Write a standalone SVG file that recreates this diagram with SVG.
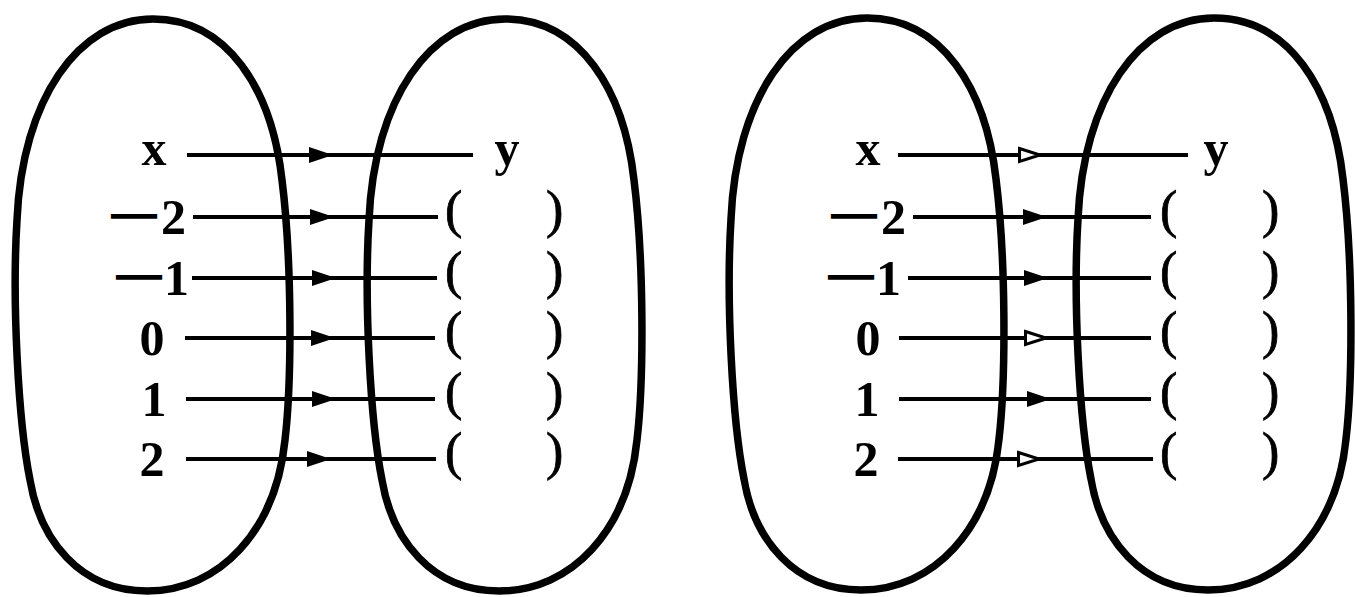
<svg xmlns="http://www.w3.org/2000/svg" width="1355" height="597" viewBox="0 0 1355 597">
<style>
.oval{fill:none;stroke:#000;stroke-width:7.5}
.ln{fill:none;stroke:#000;stroke-width:4}
.f1{marker-mid:url(#ahF)}
.f2{marker-mid:url(#ahH)}
.lbl{font-family:"Liberation Serif",serif;font-weight:bold;font-size:50px;fill:#000}
.dash{font-size:44px;stroke:#000;stroke-width:1.6}
.par{font-family:"Liberation Serif",serif;font-weight:normal;font-size:52px;fill:#000;stroke:#000;stroke-width:0.8}
</style>
<defs>
<path id="ovalShape" d="M153,19 C228,19 272,90 282,180 C292,260 292,380 285,440 C276,530 220,591 147,591 C80,591 40,540 30,480 C18,420 12,300 17,220 C22,100 78,19 153,19 Z"/>
<marker id="ahF" markerUnits="userSpaceOnUse" markerWidth="30" markerHeight="20" refX="25" refY="8" orient="auto" overflow="visible">
<path d="M1,0 L25,8 L1,16 Z" fill="#000"/>
</marker>
<marker id="ahH" markerUnits="userSpaceOnUse" markerWidth="30" markerHeight="20" refX="25" refY="8" orient="auto" overflow="visible">
<path d="M2.5,1.5 L23,8 L2.5,14.5 Z" fill="#fff" stroke="#000" stroke-width="3" stroke-linejoin="miter"/>
</marker>
</defs>
<rect width="1355" height="597" fill="#fff"/>

<g id="setA1"><use href="#ovalShape" class="oval"/></g>
<g id="setB1"><use href="#ovalShape" class="oval" transform="translate(352,0)"/></g>
<g id="setA2"><use href="#ovalShape" class="oval" transform="translate(714,-1)"/></g>
<g id="setB2"><use href="#ovalShape" class="oval" transform="translate(1061,-1)"/></g>

<g id="connectors">
<path class="ln f1" d="M187,155 L333,155 L473,155"/>
<path class="ln f1" d="M193,217 L334,217 L438,217"/>
<path class="ln f1" d="M192,278 L336,278 L437,278"/>
<path class="ln f1" d="M185,338 L335,338 L435,338"/>
<path class="ln f1" d="M186,399 L336,399 L435,399"/>
<path class="ln f1" d="M186,459 L331,459 L436,459"/>
<path class="ln f2" d="M898,155 L1042,155 L1188,155"/>
<path class="ln f1" d="M913,217 L1047,217 L1151,217"/>
<path class="ln f1" d="M908,278 L1048,278 L1151,278"/>
<path class="ln f2" d="M899,338 L1048,338 L1151,338"/>
<path class="ln f1" d="M899,399 L1051,399 L1151,399"/>
<path class="ln f2" d="M898,459 L1041,459 L1153,459"/>
</g>

<g id="labels1">
<text class="lbl" x="154" y="165" text-anchor="middle">x</text>
<text class="lbl" x="112" y="234"><tspan class="dash" dy="-7">—</tspan><tspan dx="5" dy="7">2</tspan></text>
<text class="lbl" x="117" y="295"><tspan class="dash" dy="-7">—</tspan><tspan dx="3" dy="7">1</tspan></text>
<text class="lbl" x="152" y="355" text-anchor="middle">0</text>
<text class="lbl" x="154" y="416" text-anchor="middle">1</text>
<text class="lbl" x="152" y="476" text-anchor="middle">2</text>
</g>
<g id="values1">
<text class="lbl" x="507" y="165" text-anchor="middle">y</text>
<text class="par" x="445" y="227">(</text><text class="par" x="546" y="227">)</text>
<text class="par" x="445" y="288">(</text><text class="par" x="546" y="288">)</text>
<text class="par" x="445" y="348">(</text><text class="par" x="546" y="348">)</text>
<text class="par" x="445" y="409">(</text><text class="par" x="546" y="409">)</text>
<text class="par" x="445" y="469">(</text><text class="par" x="546" y="469">)</text>
</g>

<g id="labels2">
<text class="lbl" x="868" y="165" text-anchor="middle">x</text>
<text class="lbl" x="832" y="234"><tspan class="dash" dy="-7">—</tspan><tspan dx="5" dy="7">2</tspan></text>
<text class="lbl" x="829" y="295"><tspan class="dash" dy="-7">—</tspan><tspan dx="3" dy="7">1</tspan></text>
<text class="lbl" x="868" y="355" text-anchor="middle">0</text>
<text class="lbl" x="867" y="416" text-anchor="middle">1</text>
<text class="lbl" x="866" y="476" text-anchor="middle">2</text>
</g>
<g id="values2">
<text class="lbl" x="1216" y="165" text-anchor="middle">y</text>
<text class="par" x="1160" y="227">(</text><text class="par" x="1262" y="227">)</text>
<text class="par" x="1160" y="288">(</text><text class="par" x="1262" y="288">)</text>
<text class="par" x="1160" y="348">(</text><text class="par" x="1262" y="348">)</text>
<text class="par" x="1160" y="409">(</text><text class="par" x="1262" y="409">)</text>
<text class="par" x="1160" y="469">(</text><text class="par" x="1262" y="469">)</text>
</g>
</svg>
